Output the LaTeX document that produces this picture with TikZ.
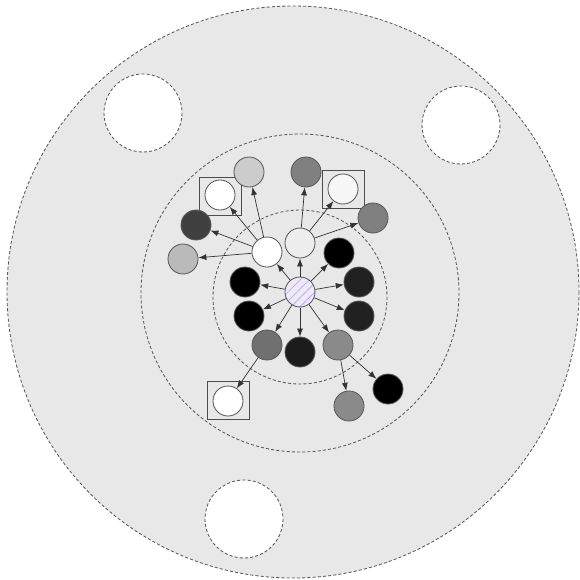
\documentclass[tikz,border=0pt]{standalone}
\usetikzlibrary{arrows.meta,patterns.meta}

\definecolor{disc}{HTML}{E8E8E8}
\definecolor{hubfill}{HTML}{EEEAF8}
\definecolor{hubline}{HTML}{C2B3EC}

\begin{document}
\begin{tikzpicture}[x=0.025cm,y=-0.025cm,
  ring/.style={draw=black!65, dash pattern=on 2.2pt off 1.5pt, line width=0.6pt},
  agent/.style={draw=black!65, circle, minimum size=0.75cm, inner sep=0pt, line width=0.6pt},
  boxframe/.style={draw=black!70, rectangle, minimum width=1.05cm, minimum height=0.95cm, line width=0.6pt},
  link/.style={-{Latex[length=2mm,width=1.5mm]}, draw=black!80, line width=0.5pt}]
\useasboundingbox (0,0) rectangle (580,580);

% regions
\draw[ring, fill=disc] (293,292) circle (286);
\draw[ring, fill=white] (143,113) circle (39);
\draw[ring, fill=white] (461,125) circle (39);
\draw[ring, fill=white] (244,519) circle (39);
\draw[ring] (300,293) circle (159);
\draw[ring] (300,297) circle (87);

% centre and first ring
\node[agent, preaction={fill=hubfill}, pattern={Lines[angle=45,distance=4.5pt,line width=0.7pt]}, pattern color=hubline] (hub) at (300,292) {};
\node[agent, fill=white] (upL) at (267,252) {};
\node[agent, fill=black!7] (upR) at (300,243) {};
\node[agent, fill=black] (blkA) at (339,253) {};
\node[agent, fill=black] (blkB) at (245,282) {};
\node[agent, fill=black] (blkC) at (249,316) {};
\node[agent, fill=black!87] (drkA) at (359,282) {};
\node[agent, fill=black!87] (drkB) at (359,316) {};
\node[agent, fill=black!89] (drkC) at (300,352) {};
\node[agent, fill=black!56] (grL) at (267,345) {};
\node[agent, fill=black!46] (grR) at (338,345) {};

% outer nodes
\node[boxframe] (frmL) at (220,196) {};
\node[boxframe] (frmR) at (343,189) {};
\node[boxframe] (frmB) at (228,400) {};
\node[agent, fill=white] (boxL) at (220,195) {};
\node[agent, fill=black!3] (boxR) at (343,189) {};
\node[agent, fill=white] (boxB) at (228,401) {};
\node[agent, fill=black!20] (topL) at (249,172) {};
\node[agent, fill=black!50] (topR) at (306,172) {};
\node[agent, fill=black!75] (sideA) at (196,225) {};
\node[agent, fill=black!27] (sideB) at (183,259) {};
\node[agent, fill=black!50] (sideR) at (373,218) {};
\node[agent, fill=black!46] (botG) at (349,406) {};
\node[agent, fill=black] (botK) at (388,389) {};

\foreach \n in {upL,upR,blkA,blkB,blkC,drkA,drkB,drkC,grL,grR}
  \draw[link] (hub) -- (\n);
\draw[link] (upL) -- (boxL);
\draw[link] (upL) -- (topL);
\draw[link] (upL) -- (sideA);
\draw[link] (upL) -- (sideB);
\draw[link] (upR) -- (topR);
\draw[link] (upR) -- (boxR);
\draw[link] (upR) -- (sideR);
\draw[link] (grL) -- (boxB);
\draw[link] (grR) -- (botG);
\draw[link] (grR) -- (botK);
\end{tikzpicture}
\end{document}
